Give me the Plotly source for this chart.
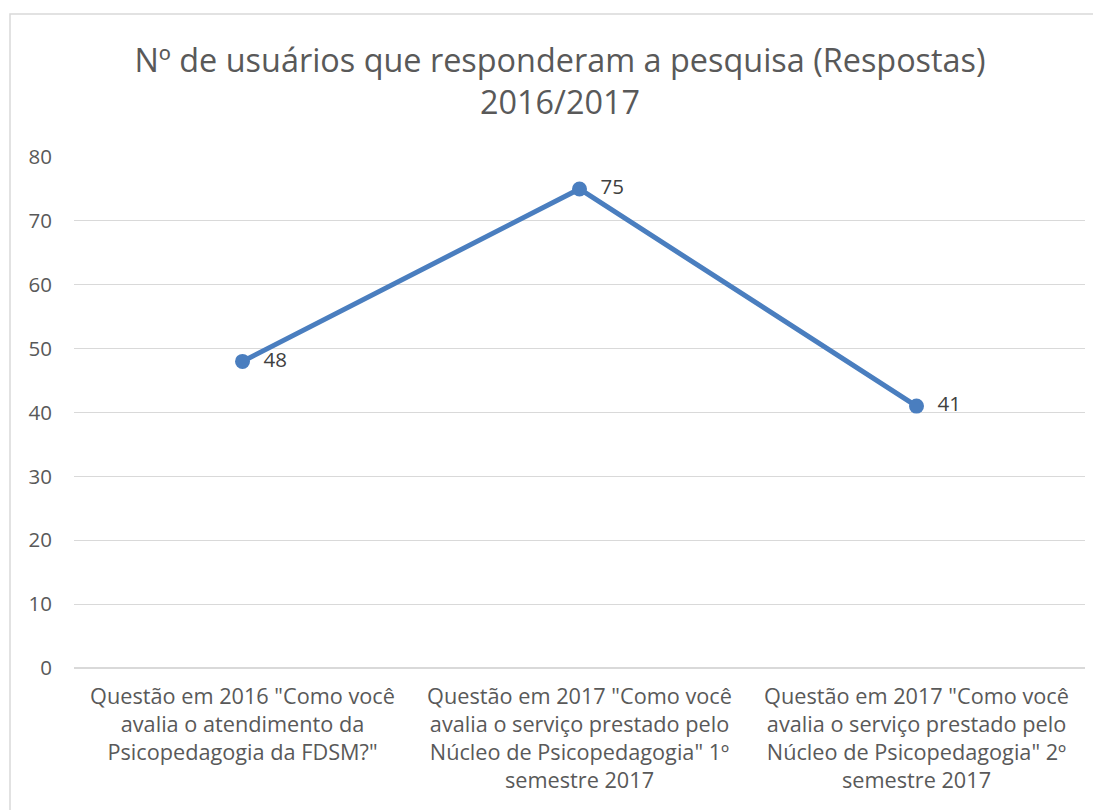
import plotly.graph_objects as go

# ── Data ──────────────────────────────────────────────────────────────────
categories = [
    'Questão em 2016 "Como você<br>avalia o atendimento da<br>Psicopedagogia da FDSM?"',
    'Questão em 2017 "Como você<br>avalia o serviço prestado pelo<br>Núcleo de Psicopedagogia" 1º<br>semestre 2017',
    'Questão em 2017 "Como você<br>avalia o serviço prestado pelo<br>Núcleo de Psicopedagogia" 2º<br>semestre 2017',
]
respostas = [48, 75, 41]
y_ticks = [0, 10, 20, 30, 40, 50, 60, 70, 80]

FONT = "Open Sans"
TEXT = "#595959"
BLUE = "#4A7EBF"

W, H = 1093, 802  # page body adds an 8px margin

fig = go.Figure()

fig.add_trace(go.Scatter(
    x=categories,
    y=respostas,
    mode="lines+markers+text",
    line=dict(color=BLUE, width=5),
    marker=dict(color=BLUE, size=15),
    text=[f"  {v}" for v in respostas],
    textposition="middle right",
    textfont=dict(family=FONT, size=20.5, color="#404040"),
    showlegend=False,
    cliponaxis=False,
))

# plot area is 1011 x 511 px; outer chart border
fig.add_shape(
    type="rect", xref="paper", yref="paper",
    x0=-64 / 1011, x1=1.2, y0=-0.6, y1=654 / 511,
    line=dict(color="#D9D9D9", width=1.5), fillcolor="rgba(0,0,0,0)",
    layer="below",
)

fig.update_layout(
    title=dict(
        text="Nº de usuários que responderam a pesquisa (Respostas)<br>2016/2017",
        x=552 / W, xanchor="center", xref="container",
        y=1 - 64 / H, yanchor="top",
        font=dict(family=FONT, size=32.4, color=TEXT),
    ),
    xaxis=dict(
        range=[-0.5, 2.5],
        showgrid=False,
        showline=False,
        ticks="",
        tickfont=dict(family=FONT, size=21.7, color=TEXT),
        tickangle=0,
        ticklabelstandoff=13,
        automargin=False,
    ),
    yaxis=dict(
        range=[0, 80],
        tickvals=y_ticks,
        showgrid=True,
        gridcolor="#D9D9D9",
        gridwidth=1,
        zeroline=True,
        zerolinecolor="#D9D9D9",
        zerolinewidth=1.5,
        showline=False,
        ticks="",
        tickfont=dict(family=FONT, size=20.5, color=TEXT),
        ticklabelstandoff=21,
        automargin=False,
    ),
    plot_bgcolor="white",
    paper_bgcolor="white",
    width=W,
    height=H,
    margin=dict(l=66, r=16, t=149, b=142),
)

fig.write_html("out.html")
